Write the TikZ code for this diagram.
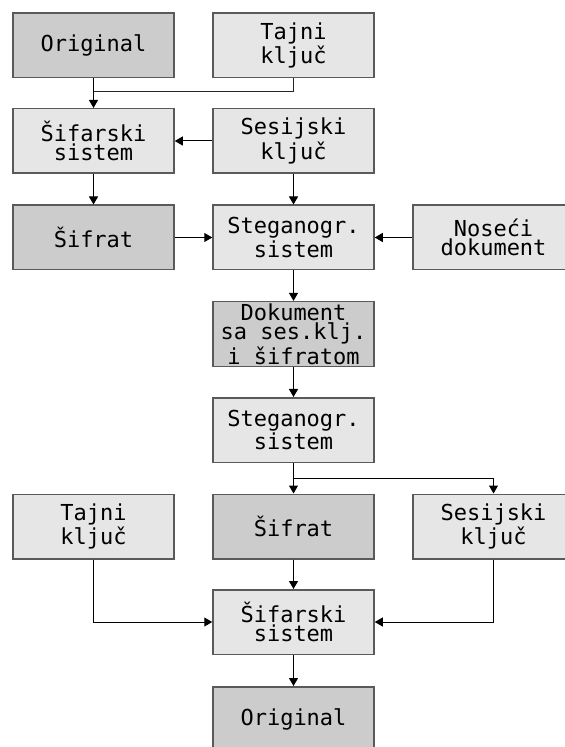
\documentclass[tikz,border=0pt]{standalone}
\usepackage{fontspec}
\setmonofont{DejaVu Sans Mono}
\usetikzlibrary{arrows.meta}
\definecolor{clight}{HTML}{E6E6E6}
\definecolor{cdark}{HTML}{CCCCCC}
\definecolor{cbord}{HTML}{5A5A5A}
\tikzset{
  every picture/.style={line width=0.5pt},
  box/.style={draw=cbord, fill=#1, line width=0.75pt, align=center, inner sep=1pt,
    minimum width=80.5pt, minimum height=32.25pt,
    font=\ttfamily\fontsize{11}{9.75}\selectfont},
  box/.default=clight,
  arrow/.style={-{Triangle[length=4pt, width=4.5pt]}, draw=black, line width=0.5pt},
  link/.style={draw=black!85, line width=0.5pt},
}

\begin{document}
\begin{tikzpicture}[x=0.5pt, y=-0.5pt]
  \clip (0,0) rectangle (565,747);
  % encryption side
  \node[box=cdark] (orig) at (93.5,45.5) {Original};
  \node[box] (tajni) at (293.5,45.5) {Tajni\\ključ};
  \node[box] (sifsys) at (93.5,141) {Šifarski\\sistem};
  \node[box] (sesija) at (293.5,141) {Sesijski\\ključ};
  \node[box=cdark] (sifrat) at (93.5,237.5) {Šifrat};
  \node[box] (stego) at (293.5,237.5) {Steganogr.\\sistem};
  \node[box] (nosec) at (493.5,237.5) {Noseći\\dokument};
  \node[box=cdark] (dokum) at (293.5,334) {Dokument\\sa ses.klj.\\i šifratom};
  % decryption side
  \node[box] (stegob) at (293.5,430) {Steganogr.\\sistem};
  \node[box] (tajnib) at (93.5,526.5) {Tajni\\ključ};
  \node[box=cdark] (sifratb) at (293.5,526.5) {Šifrat};
  \node[box] (sesijab) at (493.5,526.5) {Sesijski\\ključ};
  \node[box] (sifsysb) at (293.5,622) {Šifarski\\sistem};
  \node[box=cdark] (origb) at (293.5,719) {Original};
  \coordinate (j1) at (93.5,92);
  \coordinate (j2) at (293.5,478);

  \draw[link] (tajni.south) |- (j1);
  \draw[arrow] (orig) -- (sifsys);
  \draw[arrow] (sesija) -- (sifsys);
  \draw[arrow] (sifsys) -- (sifrat);
  \draw[arrow] (sesija) -- (stego);
  \draw[arrow] (sifrat) -- (stego);
  \draw[arrow] (nosec) -- (stego);
  \draw[arrow] (stego) -- (dokum);
  \draw[arrow] (dokum) -- (stegob);
  \draw[arrow] (stegob) -- (sifratb);
  \draw[arrow] (j2) -| (sesijab);
  \draw[arrow] (tajnib.south) |- (sifsysb.west);
  \draw[arrow] (sifratb) -- (sifsysb);
  \draw[arrow] (sesijab.south) |- (sifsysb.east);
  \draw[arrow] (sifsysb) -- (origb);
\end{tikzpicture}
\end{document}
